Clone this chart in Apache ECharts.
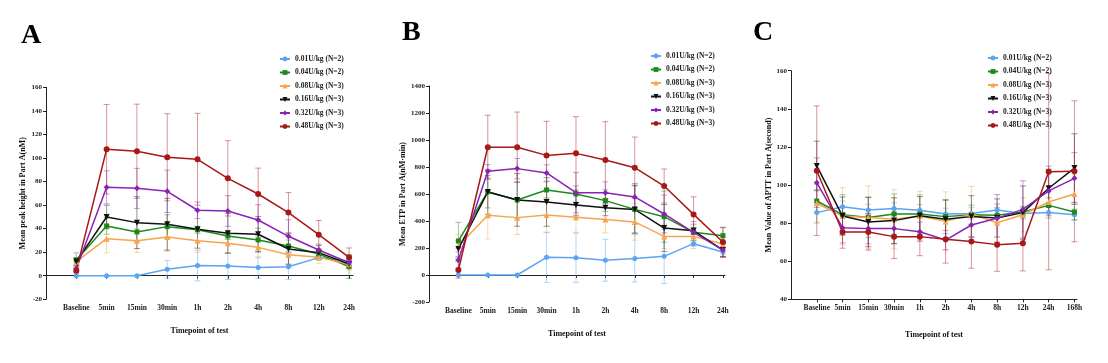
<!DOCTYPE html>
<html>
<head>
<meta charset="utf-8">
<script src="https://cdn.jsdelivr.net/npm/echarts@6/dist/echarts.min.js"></script>
<style>html,body{margin:0;padding:0;background:#fff}#c{width:1108px;height:363px}</style>
</head>
<body>
<div id="c"></div>
<script>
const categoriesAB = ['Baseline','5min','15min','30min','1h','2h','4h','8h','12h','24h'];
const categoriesC = ['Baseline','5min','15min','30min','1h','2h','4h','8h','12h','24h','168h'];
const groups = ['0.01U/kg (N=2)','0.04U/kg (N=2)','0.08U/kg (N=3)','0.16U/kg (N=3)','0.32U/kg (N=3)','0.48U/kg (N=3)'];

// Panel A: Mean peak height (nM)
const blueA   = [0,0,0,5.5,8.6,8.3,6.9,7.7,15.4,12.5];
const greenA  = [13.4,42.3,37.2,41.7,39.1,33.8,30.4,25.3,18.5,7.7];
const orangeA = [12,31.5,29.8,32.9,29.8,27.5,24.1,17.9,15.6,9.7];
const blackA  = [12,49.9,45.1,43.7,39.4,36,35.2,22.7,19.6,10];
const purpleA = [6,75.1,74.2,71.7,55.6,55,47.3,33.5,21.9,11];
const redA    = [4.3,107.4,105.7,100.6,98.9,82.7,69.4,53.6,34.9,15.6];
const blueSdA   = [0,0,0,7.5,13,11.5,9,11,2,2];
const greenSdA  = [6,7,8,10,3,3,10,5,3,10];
const orangeSdA = [3,12,10,12,10,8,9,8,5,5];
const blackSdA  = [3,10,22,22,16,17,15,13,6,3];
const purpleSdA = [2,14,17,18,7,13,13,14,5,3];
const redSdA    = [2,38,40,37,39,32,22,17,12,8];

// Panel B: Mean ETP (nM·min)
const blueB   = [0,0,0,131,128,109,123,138,232,170];
const greenB  = [252,617,556,630,600,551,486,432,316,291];
const orangeB = [215,442,425,444,427,412,393,286,286,230];
const blackB  = [193,615,556,541,519,499,486,348,328,185];
const purpleB = [111,768,788,756,610,610,578,452,316,185];
const redB    = [37,946,946,886,901,852,795,659,449,244];
const blueSdB   = [0,0,0,186,183,155,175,200,20,40];
const greenSdB  = [138,120,135,60,60,80,180,190,60,60];
const orangeSdB = [85,175,125,130,110,100,135,90,90,80];
const blackSdB  = [60,165,195,180,80,60,175,175,25,50];
const purpleSdB = [60,50,75,60,150,80,100,140,80,50];
const redSdB    = [60,237,261,252,272,284,227,126,130,110];

// Panel C: Mean APTT (second)
const blueC   = [85.5,88.6,86.9,87.6,86.7,84.8,85.1,86.9,85.1,85.5,84.4];
const greenC  = [91.6,84.4,83,84.8,84.8,83.4,84.4,84.1,85.8,89.3,85.8];
const orangeC = [90.4,83.7,83,82,83.7,80.9,84.8,80.2,84.4,91.1,95.3];
const blackC  = [110,83.7,80.6,81.3,83.9,82,83.4,82.7,85.5,98.3,108.9];
const purpleC = [101.2,77.6,77.1,77.1,75.5,71.1,79,82.5,87.2,96.9,103.5];
const redC    = [107.5,75.3,75.3,72.9,72.9,71.5,70.3,68.7,69.4,107,107.2];
const blueSdC   = [5.5,3,3,3,3,3,3,3,3,3,3];
const greenSdC  = [6,10.5,10.5,10.5,10,9,5,4,3,4,4];
const orangeSdC = [10,15,16.5,15.5,13,15.5,14.5,10,9,8,10];
const blackSdC  = [13,10,13,12,10,10,11,10,14,10,18];
const purpleSdC = [13,8,8,8,5,5,6,12.5,15,13,13.5];
const redSdC    = [34,8.5,9.5,11.5,10,12.5,14,14,14.5,51.5,37];

const yTicksA = {min:-20, max:160, interval:20};
const yTicksB = {min:-200, max:1400, interval:200};
const yTicksC = {min:40, max:160, interval:20};

const colors = ['#5BA4F2','#1B8A1B','#F7A54E','#111111','#8A22B8','#A81818'];
const symbols = ['circle','rect','triangle','triangle','diamond','circle'];
const symbolRot = [0,0,0,180,0,0];
const symbolSizes = [5,5,6,6,6,6];

const FONT = '"Liberation Serif","Times New Roman",serif';

const panels = [
  {cats: categoriesAB, means:[blueA,greenA,orangeA,blackA,purpleA,redA], sds:[blueSdA,greenSdA,orangeSdA,blackSdA,purpleSdA,redSdA], y:yTicksA,
   grid:{left:46, top:87.3, width:307, height:212}, xmax:10.13, yname:'Mean peak height in Part A(nM)', ynameGap:19, xnameGap:28},
  {cats: categoriesAB, means:[blueB,greenB,orangeB,blackB,purpleB,redB], sds:[blueSdB,greenSdB,orangeSdB,blackSdB,purpleSdB,redSdB], y:yTicksB,
   grid:{left:429, top:86, width:296, height:216}, xmax:10.07, yname:'Mean ETP in Part A(nM·min)', ynameGap:17, xnameGap:28},
  {cats: categoriesC, means:[blueC,greenC,orangeC,blackC,purpleC,redC], sds:[blueSdC,greenSdC,orangeSdC,blackSdC,purpleSdC,redSdC], y:yTicksC,
   grid:{left:791, top:70.7, width:286, height:228.6}, xmax:11.1, yname:'Mean Value of APTT in Part A(second)', ynameGap:16, xnameGap:32}
];

function errRender(params, api){
  const x = api.value(0), m = api.value(1), s = api.value(2);
  if (!s) return null;
  const t = api.coord([x, m + s]), b = api.coord([x, m - s]);
  const hw = 3;
  const st = {stroke: api.visual('color'), lineWidth: 1, opacity: 0.45};
  return {type:'group', children:[
    {type:'line', shape:{x1:t[0], y1:t[1], x2:b[0], y2:b[1]}, style:st},
    {type:'line', shape:{x1:t[0]-hw, y1:t[1], x2:t[0]+hw, y2:t[1]}, style:st},
    {type:'line', shape:{x1:b[0]-hw, y1:b[1], x2:b[0]+hw, y2:b[1]}, style:st}
  ]};
}

const grids = [], xAxes = [], yAxes = [], lineSeries = [], errSeries = [];
panels.forEach((p, pi) => {
  grids.push(p.grid);
  const idx = p.cats.map((c, i) => i + 1);
  xAxes.push({
    type:'value', gridIndex:pi, min:0, max:p.xmax,
    name:'Timepoint of test', nameLocation:'middle', nameGap:p.xnameGap,
    nameTextStyle:{fontFamily:FONT, fontWeight:'bold', fontSize:8, color:'#111'},
    axisLine:{show:true, lineStyle:{color:'#222', width:1}},
    axisTick:{show:true, length:3, customValues: idx, lineStyle:{color:'#222'}},
    axisLabel:{customValues: idx, fontFamily:FONT, fontWeight:'bold', fontSize:7.5, color:'#222', margin:5,
      formatter: v => p.cats[Math.round(v) - 1] || ''},
    splitLine:{show:false}
  });
  yAxes.push({
    type:'value', gridIndex:pi, min:p.y.min, max:p.y.max, interval:p.y.interval,
    name:p.yname, nameLocation:'middle', nameGap:p.ynameGap,
    nameTextStyle:{fontFamily:FONT, fontWeight:'bold', fontSize:8, color:'#111'},
    axisLine:{show:true, lineStyle:{color:'#222', width:1}},
    axisTick:{show:true, length:3, lineStyle:{color:'#222'}},
    axisLabel:{fontFamily:FONT, fontWeight:'bold', fontSize:7, color:'#222', margin:4, formatter: v => String(v)},
    splitLine:{show:false}
  });
  groups.forEach((g, gi) => {
    lineSeries.push({
      type:'line', name:g, xAxisIndex:pi, yAxisIndex:pi, z:3,
      symbol:symbols[gi], symbolSize:symbolSizes[gi], symbolRotate:symbolRot[gi],
      lineStyle:{width:1.5, color:colors[gi]},
      itemStyle:{color:colors[gi]},
      data: p.means[gi].map((v, i) => [i + 1, v])
    });
    errSeries.push({
      type:'custom', name:g, xAxisIndex:pi, yAxisIndex:pi, z:1,
      itemStyle:{color:colors[gi]},
      encode:{x:0, y:1},
      renderItem: errRender,
      data: p.means[gi].map((v, i) => [i + 1, v, p.sds[gi][i]])
    });
  });
});

const legendBase = {
  orient:'vertical', data:groups, itemWidth:10, itemHeight:6, itemGap:5.5, selectedMode:false,
  textStyle:{fontFamily:FONT, fontWeight:'bold', fontSize:7.5, color:'#222', lineHeight:8}
};

const chart = echarts.init(document.getElementById('c'), null, {renderer:'canvas'});
chart.setOption({
  animation:false,
  backgroundColor:'#fff',
  grid: grids, xAxis: xAxes, yAxis: yAxes, series: lineSeries.concat(errSeries),
  legend: [
    Object.assign({}, legendBase, {left:274, top:50}),
    Object.assign({}, legendBase, {left:645, top:47}),
    Object.assign({}, legendBase, {left:982, top:49})
  ],
  graphic: [
    {type:'text', left:21, top:22, style:{text:'A', font:'bold 28px ' + FONT, fill:'#000'}},
    {type:'text', left:402, top:19, style:{text:'B', font:'bold 28px ' + FONT, fill:'#000'}},
    {type:'text', left:753, top:19, style:{text:'C', font:'bold 28px ' + FONT, fill:'#000'}}
  ]
});
</script>
</body>
</html>
